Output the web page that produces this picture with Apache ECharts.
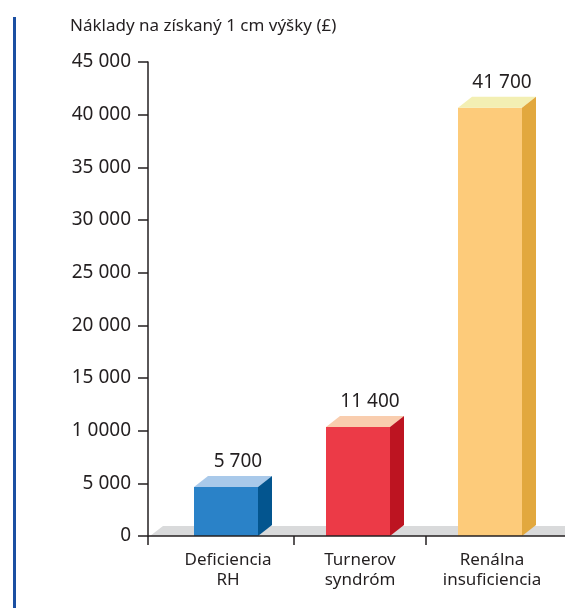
<!DOCTYPE html>
<html>
<head>
<meta charset="utf-8">
<script src="https://cdn.jsdelivr.net/npm/echarts@6/dist/echarts.min.js"></script>
<style>html,body{margin:0;padding:0;background:#fff}#c{width:565px;height:608px}</style>
</head>
<body>
<div id="c"></div>
<script>
const titleText = 'Náklady na získaný 1 cm výšky (£)';
const categories = ['Deficiencia\nRH', 'Turnerov\nsyndróm', 'Renálna\ninsuficiencia'];
const values = [5700, 11400, 41700];
const valueLabels = ['5 700', '11 400', '41 700'];
const yTickValues = [0, 5000, 10000, 15000, 20000, 25000, 30000, 35000, 40000, 45000];
const yTickLabels = ['0', '5 000', '1 0000', '15 000', '20 000', '25 000', '30 000', '35 000', '40 000', '45 000'];

const palette = [
  { front: '#2a82c8', top: '#a9c9ea', side: '#03558f' },
  { front: '#ec3a47', top: '#f9cdae', side: '#bd1421' },
  { front: '#fdcb7a', top: '#f3efb3', side: '#e2a83e' }
];
const FONT = 'Noto Sans';
const DX = 14, DY = 11, FRONT_W = 64;

const chart = echarts.init(document.getElementById('c'), null, { renderer: 'canvas' });

const option = {
  animation: false,
  title: {
    text: titleText, left: 65, top: 13,
    textStyle: { fontFamily: FONT, fontSize: 17, fontWeight: 'normal', color: '#231f20' }
  },
  graphic: [{ type: 'rect', shape: { x: 13, y: 17, width: 3, height: 591 }, style: { fill: '#1b4fa2' } }],
  grid: { left: 162, right: 7, top: 62, bottom: 72, containLabel: false },
  xAxis: {
    type: 'category', data: categories,
    axisLine: { show: false }, axisTick: { show: false },
    axisLabel: { fontFamily: FONT, fontSize: 17, lineHeight: 20, color: '#231f20', margin: 14 }
  },
  yAxis: {
    type: 'value', min: 0, max: 45000, interval: 5000, offset: 14,
    axisLine: { show: true, lineStyle: { color: '#231f20', width: 1.5 } },
    axisTick: { show: true, length: 10, lineStyle: { color: '#231f20', width: 1.5 } },
    splitLine: { show: false },
    axisLabel: {
      fontFamily: FONT, fontSize: 19, color: '#231f20', margin: 17,
      formatter: function (v) { const i = yTickValues.indexOf(v); return i >= 0 ? yTickLabels[i] : ''; }
    }
  },
  series: [
    {
      type: 'custom', z: 1, clip: false, silent: true,
      data: [[0, 0]],
      renderItem: function (params, api) {
        const cs = params.coordSys;
        const base = api.coord([0, 0])[1];
        const right = cs.x + cs.width + 7;
        return {
          type: 'polygon',
          shape: { points: [[cs.x - 12, base], [cs.x + 1, base - 10], [right, base - 10], [right, base]] },
          style: { fill: '#d9dadb' }
        };
      }
    },
    {
      type: 'custom', z: 2, clip: false,
      data: values.map((v, i) => [i, v]),
      renderItem: function (params, api) {
        const i = api.value(0);
        const v = api.value(1);
        const topPt = api.coord([i, v]);
        const base = api.coord([i, 0])[1];
        const c = palette[i];
        const x0 = topPt[0] - FRONT_W / 2 - 2;
        const x1 = x0 + FRONT_W;
        const top = topPt[1] + DY;
        return {
          type: 'group',
          children: [
            { type: 'rect', shape: { x: x0, y: top, width: FRONT_W, height: base - top }, style: { fill: c.front } },
            { type: 'polygon', shape: { points: [[x0, top], [x1, top], [x1 + DX, top - DY], [x0 + DX, top - DY]] }, style: { fill: c.top } },
            { type: 'polygon', shape: { points: [[x1, top], [x1 + DX, top - DY], [x1 + DX, base - DY], [x1, base]] }, style: { fill: c.side } },
            { type: 'text', style: { text: valueLabels[i], x: x0 + FRONT_W / 2 + 12, y: top - DY - 5, align: 'center', verticalAlign: 'bottom', fontFamily: FONT, fontSize: 19, fill: '#231f20' } }
          ]
        };
      }
    },
    {
      type: 'custom', z: 3, clip: false, silent: true,
      data: [[0, 0]],
      renderItem: function (params, api) {
        const cs = params.coordSys;
        const base = api.coord([0, 0])[1];
        const band = api.size([1, 0])[0];
        const ls = { stroke: '#231f20', lineWidth: 1.5 };
        const children = [
          { type: 'line', shape: { x1: cs.x - 14, y1: base, x2: cs.x + cs.width + 7, y2: base }, style: ls },
          { type: 'line', shape: { x1: cs.x - 14, y1: base, x2: cs.x - 14, y2: base + 9 }, style: ls }
        ];
        for (let k = 1; k < categories.length; k++) {
          const bx = api.coord([k, 0])[0] - band / 2;
          children.push({ type: 'line', shape: { x1: bx, y1: base, x2: bx, y2: base + 9 }, style: ls });
        }
        return { type: 'group', children: children };
      }
    }
  ]
};
chart.setOption(option);
</script>
</body>
</html>
